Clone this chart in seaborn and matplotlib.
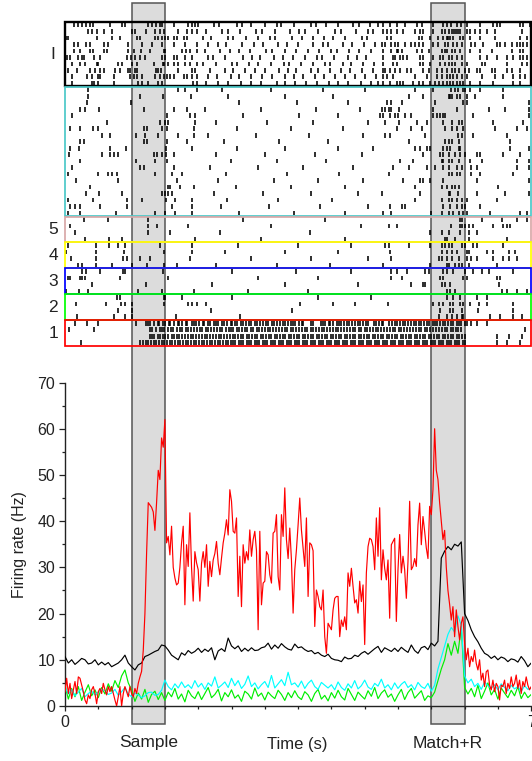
import numpy as np
import pandas as pd
import matplotlib
matplotlib.use("Agg")
import matplotlib.pyplot as plt
import seaborn as sns
from matplotlib.patches import Rectangle
from matplotlib.transforms import blended_transform_factory

# ---------------- firing-rate traces (Hz) ----------------
RED_DT = 0.025
red_hz = [
    3.0, 6.0, 2.7, 4.9, 1.6, 3.5, 5.3, 2.7, 6.3, 6.0, 4.5, 3.1, 1.3, 0.5, 2.4, 1.6, 3.5, 4.2, 2.7, 0.5,
    3.1, 3.8, 2.7, 4.9, 3.5, 2.4, 4.2, 3.1, 4.2, 2.7, 1.3, 0.0, 2.0, 4.2, 0.0, 2.7, 4.2, 3.1, 2.0, 4.2,
    2.7, 2.0, 3.8, 2.7, 4.9, 6.3, 7.5, 12.0, 20.0, 33.0, 44.0, 43.5, 43.0, 42.0, 38.0, 44.0, 51.0, 49.0, 58.0, 56.0,
    62.0, 35.3, 36.7, 32.7, 38.9, 30.0, 27.7, 26.2, 26.6, 30.0, 35.3, 38.9, 21.9, 34.9, 30.2, 41.8, 30.0, 22.7, 33.4, 31.0,
    29.5, 22.7, 30.9, 33.4, 30.0, 34.9, 25.9, 31.3, 28.0, 31.6, 33.0, 35.6, 30.9, 28.4, 32.0, 35.3, 37.4, 40.3, 37.0, 46.8,
    44.3, 37.8, 37.4, 40.7, 23.7, 32.4, 21.5, 34.9, 30.9, 33.4, 31.6, 38.1, 32.4, 36.0, 37.8, 33.6, 16.5, 37.8, 21.9, 26.6,
    27.0, 33.4, 32.7, 28.4, 26.6, 37.4, 37.8, 41.4, 28.0, 25.1, 41.4, 36.7, 47.2, 36.0, 31.9, 38.5, 31.6, 20.1, 29.5, 33.8,
    39.2, 45.0, 38.1, 34.2, 30.2, 40.7, 23.7, 35.3, 34.9, 33.6, 17.2, 25.1, 23.7, 21.5, 20.8, 25.1, 15.0, 11.4, 17.9, 17.2,
    16.5, 20.8, 23.3, 23.7, 23.7, 15.0, 18.6, 17.2, 19.3, 16.5, 28.8, 25.9, 29.8, 25.9, 22.3, 23.0, 20.1, 27.0, 22.6, 26.2,
    13.3, 28.8, 34.5, 36.3, 36.0, 34.5, 29.5, 40.7, 32.4, 42.9, 27.3, 33.8, 29.8, 27.3, 31.6, 19.0, 34.9, 35.6, 36.3, 18.3,
    29.5, 37.1, 28.8, 32.4, 29.5, 23.3, 31.3, 44.3, 29.5, 30.2, 31.9, 30.2, 39.2, 43.9, 34.9, 41.0, 37.8, 34.2, 31.9, 43.2,
    41.4, 46.8, 60.0, 51.0, 49.0, 44.0, 40.0, 36.0, 38.0, 30.0, 25.0, 22.0, 18.6, 21.5, 15.0, 20.8, 17.2, 14.3, 17.9, 19.3,
    13.6, 10.0, 12.5, 8.5, 10.7, 9.6, 12.1, 9.2, 7.8, 10.0, 5.6, 7.1, 4.2, 7.4, 7.8, 4.5, 3.5, 5.6, 3.1, 4.9,
    4.2, 1.3, 4.5, 4.2, 5.6, 2.7, 4.9, 3.8, 6.3, 4.2, 4.9, 6.7, 3.8, 5.6, 2.7, 5.3, 4.2, 6.3, 4.5, 3.5,
    4.2,
]
DT = 0.05
black_hz = [
    10.7, 9.3, 10.0, 9.0, 9.6, 10.3, 10.0, 9.1, 9.3, 10.0,
    8.9, 9.5, 8.9, 9.4, 8.5, 8.9, 9.3, 10.0, 11.0, 9.3,
    8.5, 7.8, 8.9, 9.3, 10.7, 11.0, 11.4, 11.8, 12.1, 13.2,
    13.0, 12.1, 11.0, 10.5, 10.0, 11.5, 11.0, 12.0, 11.4, 11.8,
    12.5, 11.6, 12.3, 11.8, 12.6, 10.0, 11.9, 12.4, 11.8, 14.7,
    13.0, 12.4, 13.0, 11.8, 12.5, 11.9, 12.6, 12.0, 12.1, 12.6,
    12.8, 13.6, 12.3, 13.2, 12.5, 13.5, 12.8, 12.3, 12.1, 13.4,
    12.6, 12.8, 12.2, 11.8, 12.0, 11.3, 11.6, 11.0, 10.7, 11.2,
    10.3, 10.0, 9.9, 9.6, 10.6, 10.2, 10.3, 11.0, 10.7, 11.4,
    11.8, 11.2, 11.8, 12.4, 12.9, 11.6, 12.6, 12.2, 11.8, 12.5,
    11.8, 12.7, 12.1, 11.6, 13.2, 12.0, 11.4, 12.6, 12.9, 12.2,
    13.6, 13.0, 14.0, 32.0, 33.5, 34.5, 33.8, 35.0, 34.6, 35.5,
    20.0, 18.5, 16.5, 15.0, 13.9, 12.5, 11.4, 11.0, 10.3, 10.8,
    10.0, 10.6, 10.3, 9.6, 10.2, 10.0, 9.5, 10.7, 9.8, 8.5,
    9.3,
]
cyan_hz = [
    4.0, 2.6, 3.5, 2.2, 3.0, 3.8, 2.0, 2.7, 3.2, 2.4,
    3.0, 3.6, 3.3, 2.5, 2.8, 3.6, 2.3, 3.1, 4.0, 2.6,
    2.0, 2.8, 2.4, 1.8, 2.2, 2.9, 3.0, 2.3, 2.5, 3.4,
    5.6, 4.2, 3.5, 4.8, 3.9, 5.2, 4.0, 4.6, 3.8, 5.5,
    4.1, 4.9, 3.6, 5.0, 4.3, 6.3, 3.9, 4.5, 5.2, 4.0,
    6.0, 4.4, 5.5, 3.8, 4.7, 6.5, 4.2, 5.0, 3.7, 4.6,
    5.3, 4.0, 6.6, 3.9, 4.8, 5.7, 4.4, 7.3, 4.6, 5.0,
    4.1, 5.4, 3.8, 4.9, 5.6, 4.2, 3.6, 5.1, 4.5, 3.9,
    4.6, 3.5, 5.2, 4.0, 3.4, 4.8, 3.9, 5.5, 3.7, 4.4,
    5.6, 4.1, 3.6, 4.9, 4.3, 5.8, 3.9, 4.6, 3.5, 5.0,
    3.8, 4.7, 5.3, 4.0, 4.6, 3.5, 5.1, 4.2, 3.8, 4.9,
    3.2, 4.5, 8.0, 10.5, 13.0, 15.5, 17.0, 16.0, 19.5, 17.5,
    6.5, 5.0, 5.8, 4.2, 4.9, 3.6, 5.2, 4.4, 3.8, 4.6,
    3.5, 4.8, 4.0, 3.3, 4.5, 3.7, 4.2, 3.1, 4.4, 3.6,
    3.9,
]
green_hz = [
    4.5, 1.5, 3.8, 2.0, 4.2, 1.2, 3.0, 4.6, 2.2, 3.5,
    1.8, 4.0, 2.6, 4.8, 3.2, 5.5, 4.0, 6.5, 7.8, 5.0,
    3.5, 1.0, 2.8, 1.5, 3.6, 0.8, 2.5, 3.2, 1.4, 2.9,
    1.2, 3.0, 2.0, 3.8, 1.5, 2.6, 0.9, 3.4, 2.2, 1.6,
    3.1, 1.4, 2.7, 4.0, 1.8, 2.5, 3.6, 1.1, 2.9, 2.0,
    3.5, 1.7, 2.4, 1.0, 3.2, 2.6, 1.5, 3.9, 2.1, 2.8,
    1.3, 3.0, 2.2, 1.6, 3.4, 2.5, 1.2, 2.9, 1.8, 3.3,
    2.0, 1.4, 3.1, 2.4, 1.0, 2.7, 3.6, 1.5, 2.3, 1.1,
    2.9, 1.7, 3.4, 2.0, 1.3, 3.8, 2.5, 1.2, 3.0, 2.2,
    1.5, 3.3, 2.1, 4.0, 1.6, 2.8, 3.5, 1.9, 2.6, 1.0,
    2.4, 3.6, 1.4, 2.9, 3.8, 1.7, 2.5, 3.3, 1.2, 2.2,
    1.8, 3.0, 5.5, 8.0, 10.0, 13.5, 11.0, 14.0, 11.4, 17.2,
    4.0, 2.6, 3.8, 2.0, 4.5, 1.6, 3.2, 5.0, 2.4, 3.6,
    1.5, 3.9, 2.8, 1.8, 3.4, 2.2, 4.2, 1.6, 3.0, 1.8,
    2.5,
]

# ---------------- raster: spike times in centiseconds, one string per trial (top to bottom) ----------------
rows_I = [
    "14 20 26 32 38 42 68 85 90 124 130 136 143 145 163 185 190 195 200 224 231 258 266 279 301 318 325 344 369 377 392 410 433 441 458 470 477 488 498 510 528 536 553 568 574 580 588 595 603 623 643 648 653 683 688 698",
    "34 40 48 59 71 100 105 122 135 142 148 170 183 190 198 212 236 244 263 287 296 315 338 352 361 380 406 414 437 455 462 477 483 490 498 508 526 533 538 553 566 571 576 581 584 587 590 593 603 608 616 623 633 646 686",
    "2 5 48 70 83 108 113 135 140 145 150 155 163 168 178 183 207 219 245 253 272 290 308 316 341 356 373 389 402 420 446 453 483 490 531 536 548 560 568 573 575 578 583 593 598 608 623 646 683 693",
    "14 19 32 37 59 64 94 115 130 145 163 180 198 215 229 242 266 284 297 320 333 350 372 388 395 418 431 449 466 476 481 490 496 500 510 520 525 531 538 553 560 570 575 583 588 596 610 616 628 648 653 661 671 678 683 688 693",
    "14 22 38 42 58 63 95 103 114 127 148 150 175 182 188 198 210 233 247 261 278 302 311 330 347 365 381 400 409 427 442 460 477 490 498 500 506 528 536 546 566 571 573 581 586 593 608 623 641 671 683 688",
    "3 8 20 25 28 44 53 93 99 105 113 120 145 150 163 168 180 190 214 222 240 268 281 293 314 327 343 360 378 386 404 425 438 452 477 493 496 503 508 513 533 538 553 563 568 576 581 588 596 623 633 648 663 673 683 688 693",
    "10 23 30 48 50 80 85 100 108 133 147 149 155 163 170 180 187 198 207 226 251 259 276 290 309 329 337 355 373 391 398 417 430 447 464 478 493 498 533 538 548 563 571 576 581 586 596 603 626 631 663 686 693",
    "5 18 38 45 52 58 75 83 95 98 105 108 137 140 144 170 190 195 218 240 252 270 286 300 322 335 347 369 380 398 415 428 446 463 477 481 488 496 503 513 520 538 546 558 566 573 581 586 591 600 606 618 623 641 646 663 671 683",
    "10 33 40 50 53 73 98 103 108 115 135 142 148 153 158 163 178 183 190 198 215 228 249 262 280 296 311 331 344 358 376 389 405 421 436 450 467 478 483 493 526 543 558 566 573 578 583 588 596 603 626 646 658 673 683 691",
    "10 40 44 49 73 110 115 125 140 146 192 198 212 230 244 265 279 294 318 330 346 362 379 396 410 425 444 459 470 478 488 498 503 508 523 531 538 548 556 561 568 573 578 583 588 593 598 608 623 643 673 683",
]
rows_C = [
    "35 170 180 198 236 310 388 450 526 553 580 585 590 598 600 608 623 658",
    "35 112 147 189 245 330 402 517 538 576 578 581 588 593 603 616 658",
    "33 99 262 349 425 483 490 506 556 598 603 696",
    "23 30 51 119 163 183 210 295 377 443 476 481 486 490 501 553 588 636 661 696",
    "10 153 188 195 268 351 410 473 478 488 496 500 510 520 553 558 563 568 570 613 696",
    "63 143 150 155 195 227 304 372 455 481 501 528 543 568 581 591 596 643 688",
    "7 22 42 50 118 123 145 153 193 258 340 418 498 520 536 570 581 588 598 646 678 693",
    "55 68 107 120 140 170 193 214 287 366 447 481 488 541 590 596 613 663",
    "23 28 118 123 153 183 239 322 395 516 570 576 581 591 668",
    "7 21 68 91 151 190 258 330 410 462 526 533 543 548 568 573 578 591 593 668 696",
    "6 55 68 74 80 133 138 146 151 163 226 300 375 446 538 563 568 576 586 593 600 618 623 658 683",
    "23 107 135 153 249 318 392 503 523 566 568 576 581 591 608 626 678 696",
    "10 113 118 163 217 290 357 433 493 516 543 556 568 576 588 596 610 618 678 696",
    "5 50 65 70 78 135 160 175 241 333 412 486 576 581 588 593 610 623 673",
    "16 80 168 230 314 380 448 508 533 538 548 568 618 696",
    "38 155 158 173 193 257 340 421 526 566 573 581 586 591 650",
    "31 51 85 145 150 155 160 223 297 369 440 476 533 576 578 590 618 661 696",
    "5 42 93 115 152 165 190 243 320 401 526 566 576 581 588 596 603 648",
    "7 15 22 53 93 160 190 234 306 383 455 488 506 510 568 578 588 596 601 623",
    "5 23 76 135 150 165 190 262 344 420 478 490 550 566 576 583 591 598 603 638 683 693",
]
rows_5 = [
    "28 65 124 268 390 593 596 626 656 678 693",
    "8 124 138 184 310 445 486 498 580 593 596 601 606 613 643 658 663 668",
    "15 125 157 232 368 548 566 576 593 606 618",
    "30 66 85 195 295 420 570 573 586 606 663",
]
rows_4 = [
    "5 47 66 80 90 143 190 260 350 430 480 486 516 548 566 571 576 581 596 601 613 618 658",
    "2 46 89 148 190 240 330 410 488 566 573 581 588 603 606 633 643 666 676",
    "9 47 87 93 112 128 188 280 370 455 490 561 566 573 581 591 603 610 618 643 658 666 678",
    "20 25 47 70 101 123 148 168 226 318 398 478 548 573 576 586 591 596 606 648",
]
rows_3 = [
    "25 31 53 87 90 147 250 347 430 490 498 513 541 546 568 573 583 601 613 626 636 673",
    "5 8 22 25 30 83 155 290 380 490 506 563 568 598 603 648 653",
    "40 121 220 330 440 520 538 541 566 571 578 651",
    "2 21 35 110 145 193 275 365 573 578 586 656 663 678 693",
]
rows_2 = [
    "78 83 148 150 175 250 380 460 573 583 593 618 633",
    "17 62 84 90 100 148 185 190 198 211 353 403 435 485 553 561 568 578 583 593 598 608 621 633 673",
    "80 100 219 341 563 578 583 596 620 673",
    "18 73 90 100 167 263 561 573 581 588 596 598 638 653 673 686",
]
rows_1 = [
    "15 33 50 107 121 125 128 134 139 141 147 150 156 158 164 169 171 176 181 183 190 194 196 201 207 209 214 218 223 226 230 236 238 243 249 251 256 259 265 268 272 277 280 286 289 293 298 302 305 311 314 318 323 327 330 335 339 343 346 351 356 358 369 372 384 387 391 396 398 403 408 411 415 419 424 427 431 436 440 443 447 452 455 464 467 471 476 478 487 491 496 499 503 508 511 515 519 524 527 532 535 539 544 547 552 556 559 563 568 571 575 580 583 588 592 595 600 604 609 619 633",
    "6 43 128 131 136 142 145 149 154 159 162 168 172 175 181 184 189 193 198 203 206 211 215 219 224 228 233 236 241 246 249 253 258 262 266 271 274 279 283 288 291 296 300 305 308 313 317 321 326 330 334 339 342 347 351 356 360 364 369 372 377 381 386 389 394 398 402 407 410 415 419 424 428 432 436 441 445 450 453 458 462 467 470 475 479 483 488 492 496 501 505 509 514 518 522 527 531 535 540 544 548 553 557 561 566 570 574 579 583 587 590 594 690",
    "127 130 134 139 143 147 150 155 160 163 168 171 176 180 184 189 192 197 201 205 210 213 218 222 226 231 234 239 243 247 252 255 260 264 268 273 276 281 285 289 294 297 302 306 310 315 318 323 327 331 336 339 344 348 352 357 360 365 369 373 378 381 386 390 394 399 402 407 411 415 420 423 428 432 436 441 444 449 453 457 462 465 470 474 478 483 486 491 495 499 504 507 512 516 520 525 528 533 537 541 546 549 554 558 562 567 570 575 579 583 588 591 596 601 648 666 686",
    "24 113 117 121 124 129 133 136 141 145 148 153 157 160 165 169 172 177 181 184 189 193 196 201 205 208 213 217 220 225 229 232 237 241 244 249 253 256 261 265 268 273 277 280 285 289 292 297 301 304 309 313 316 321 325 328 333 337 340 345 349 352 357 361 364 369 373 376 381 385 388 393 397 400 405 409 412 417 421 424 429 433 436 441 445 448 453 457 460 465 469 472 477 481 484 489 493 496 501 505 508 513 517 520 525 529 532 537 541 544 549 553 556 561 565 568 573 577 580 585 589 592 597 601 648 663 683",
]
group_labels = ["I", "", "5", "4", "3", "2", "1"]
group_colors = ["#000000", "#4cc8c8", "#d8a8a8", "#ffff00", "#0000ff", "#00ff00", "#ff0000"]
group_rows = [rows_I, rows_C, rows_5, rows_4, rows_3, rows_2, rows_1]

epochs = [(1.0, 1.5, "Sample"), (5.5, 6.0, "Match+R")]
x_ticks_major = [0, 7]

# ---------------- figure ----------------
sns.set_theme(style="ticks")
plt.rcParams["font.family"] = ["Liberation Sans", "DejaVu Sans"]
plt.rcParams["axes.linewidth"] = 1.0

W, H = 532, 761
fig = plt.figure(figsize=(W / 100, H / 100), dpi=100)
fig.patch.set_facecolor("white")


def rect(x0, y0, x1, y1):
    return [x0 / W, 1 - y1 / H, (x1 - x0) / W, (y1 - y0) / H]


ax = fig.add_axes(rect(65, 382.5, 531.2, 706))
axr = fig.add_axes(rect(65, 21.7, 531.2, 346))
axr.set_facecolor("none")

# gray epoch bands spanning both panels
band_tr = blended_transform_factory(ax.transData, fig.transFigure)
for (a, b, name) in epochs:
    ax.add_patch(Rectangle((a, 1 - 724 / H), b - a, (724 - 3) / H, transform=band_tr,
                           facecolor="#dcdcdc", edgecolor="#555555", lw=1.1,
                           clip_on=False, zorder=0.5))
    fig.text((65 + (a + b) / 2 * 66.6) / W, 1 - 743 / H, name, ha="center", va="center",
             fontsize=12.5, color="#222222")

# firing-rate lines
t_red = np.arange(len(red_hz)) * RED_DT
t = np.arange(len(black_hz)) * DT
df_red = pd.DataFrame({"t": t_red, "hz": red_hz})
df_other = pd.DataFrame({"t": t, "black": black_hz, "cyan": cyan_hz, "green": green_hz})
sns.lineplot(data=df_other, x="t", y="black", color="black", lw=0.85, ax=ax, zorder=3)
sns.lineplot(data=df_other, x="t", y="green", color="#00ee00", lw=0.85, ax=ax, zorder=3)
sns.lineplot(data=df_other, x="t", y="cyan", color="#00ffff", lw=0.85, ax=ax, zorder=3)
sns.lineplot(data=df_red, x="t", y="hz", color="#ff0000", lw=0.85, ax=ax, zorder=4)

ax.set_xlim(0, 7)
ax.set_ylim(0, 70)
ax.set_xticks(x_ticks_major)
ax.set_xticks(np.arange(0.5, 7.0, 0.5), minor=True)
ax.set_yticks(np.arange(0, 71, 10))
ax.set_yticks(np.arange(5, 70, 10), minor=True)
ax.tick_params(axis="both", which="major", length=4.6, width=0.9, labelsize=11.5,
               color="#222222", labelcolor="#222222", direction="out")
ax.tick_params(axis="y", which="major", pad=2.5)
ax.tick_params(axis="x", which="major", pad=3, length=3.6)
ax.tick_params(axis="both", which="minor", length=2.5, width=0.9, color="#222222", direction="out")
for s in ["top", "right"]:
    ax.spines[s].set_visible(False)
for s in ["left", "bottom"]:
    ax.spines[s].set_color("#222222")
ax.set_xlabel("")
ax.set_ylabel("")
fig.text(20 / W, 1 - 545 / H, "Firing rate (Hz)", rotation=90, ha="center", va="center",
         fontsize=11.5, color="#222222")
fig.text(297 / W, 1 - 745 / H, "Time (s)", ha="center", va="center", fontsize=12, color="#222222")

# raster
n_total = sum(len(g) for g in group_rows)
axr.set_xlim(0, 7)
axr.set_ylim(0, n_total)
axr.set_axis_off()
top = n_total
for label, rows, col in zip(group_labels, group_rows, group_colors):
    n = len(rows)
    spikes = [np.array(r.split(), float) / 100.0 for r in rows]
    offsets = [top - 0.5 - i for i in range(n)]
    axr.eventplot(spikes, lineoffsets=offsets, linelengths=0.72, linewidths=1.15,
                  colors="black", zorder=3)
    lw = 1.7 if col == "#000000" else 1.25
    axr.add_patch(Rectangle((0, top - n + 0.04), 7, n - 0.08, fill=False, edgecolor=col,
                            lw=lw, clip_on=False, zorder=4))
    if label:
        axr.text(-0.18, top - n / 2, label, ha="center", va="center", fontsize=12.5,
                 color="#222222", clip_on=False)
    top -= n

fig.savefig("out.png", dpi=100)
